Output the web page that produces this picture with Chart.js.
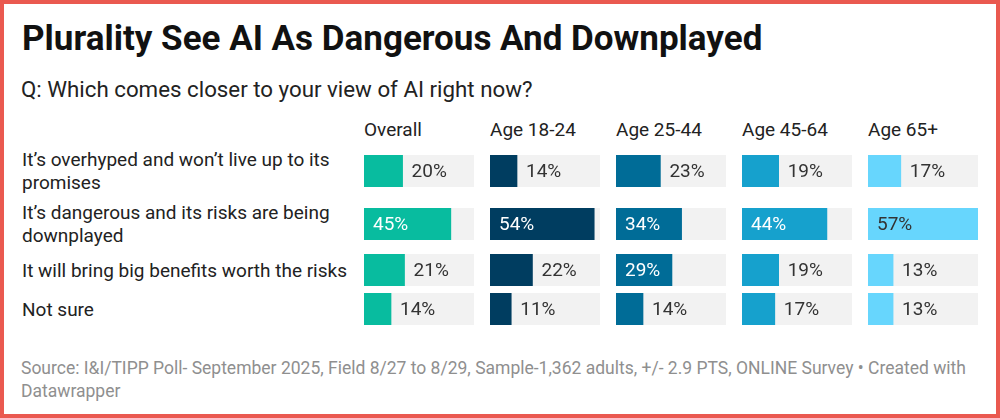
<!DOCTYPE html>
<html>
<head>
<meta charset="utf-8">
<script src="https://cdn.jsdelivr.net/npm/chart.js@4.4.1/dist/chart.umd.min.js"></script>
<style>
  html, body { margin: 0; padding: 0; }
  body {
    width: 1000px; height: 418px; box-sizing: border-box;
    border: 4px solid #ea5950; background: #fff; position: relative;
    font-family: Roboto, "Noto Sans", sans-serif; color: #333; overflow: hidden;
  }
  #title {
    position: absolute; left: 18px; top: 17px; font-size: 35px; line-height: 35px;
    font-weight: 700; color: #111; white-space: nowrap;
  }
  #subtitle {
    position: absolute; left: 17px; top: 74px; font-size: 22.3px; line-height: 22px;
    color: #222; white-space: nowrap;
  }
  #table {
    position: absolute; left: 18px; top: 114px; display: grid;
    grid-template-columns: 342px repeat(5, 126px); row-gap: 7px;
    font-size: 19px; line-height: 23px;
  }
  .head { color: #222; }
  .label { align-self: center; padding-right: 8px; color: #222; }
  .cell { align-self: center; height: 32px; }
  .cell canvas { display: block; }
  #footer {
    position: absolute; left: 17px; top: 353px; width: 958px; font-size: 17.5px;
    line-height: 23px; color: #8f8f8f;
  }
</style>
</head>
<body>
<div id="title">Plurality See AI As Dangerous And Downplayed</div>
<div id="subtitle">Q: Which comes closer to your view of AI right now?</div>
<div id="table"></div>
<div id="footer">Source: I&amp;I/TIPP Poll- September 2025, Field 8/27 to 8/29, Sample-1,362 adults, +/- 2.9 PTS, ONLINE Survey • Created with Datawrapper</div>

<script>
const answers = [
  "It’s overhyped and won’t live up to its promises",
  "It’s dangerous and its risks are being downplayed",
  "It will bring big benefits worth the risks",
  "Not sure"
];
const groups = ["Overall", "Age 18-24", "Age 25-44", "Age 45-64", "Age 65+"];
const overall = [20, 45, 21, 14];
const age18to24 = [14, 54, 22, 11];
const age25to44 = [23, 34, 29, 14];
const age45to64 = [19, 44, 19, 17];
const age65plus = [17, 57, 13, 13];
const series = [overall, age18to24, age25to44, age45to64, age65plus];

const barColors = ["#08bc9f", "#003d60", "#006c97", "#16a1cd", "#67d6fd"];
const insideText = ["#fff", "#fff", "#fff", "#fff", "#333"];
const trackColor = "#f2f2f2";
const maxValue = Math.max(...series.flat());

// value label: inside the bar when it fits, otherwise just after it
const valueLabels = {
  id: "valueLabels",
  afterDatasetsDraw(chart, args, opts) {
    const ctx = chart.ctx;
    const bar = chart.getDatasetMeta(0).data[0];
    const text = chart.data.datasets[0].data[0] + "%";
    ctx.save();
    ctx.font = "19px Roboto, 'Noto Sans', sans-serif";
    ctx.textBaseline = "middle";
    ctx.textAlign = "left";
    const w = ctx.measureText(text).width;
    const barW = bar.x - bar.base;
    if (barW >= w + 18) {
      ctx.fillStyle = opts.inside;
      ctx.fillText(text, bar.base + 9, bar.y + 1);
    } else {
      ctx.fillStyle = "#333";
      ctx.fillText(text, bar.x + 9, bar.y + 1);
    }
    ctx.restore();
  }
};

const table = document.getElementById("table");
table.appendChild(document.createElement("div"));
groups.forEach((g) => {
  const h = document.createElement("div");
  h.className = "head";
  h.textContent = g;
  table.appendChild(h);
});

answers.forEach((answer, row) => {
  const lab = document.createElement("div");
  lab.className = "label";
  lab.textContent = answer;
  table.appendChild(lab);

  series.forEach((values, col) => {
    const cell = document.createElement("div");
    cell.className = "cell";
    const canvas = document.createElement("canvas");
    canvas.width = 110;
    canvas.height = 32;
    canvas.style.width = "110px";
    canvas.style.height = "32px";
    cell.appendChild(canvas);
    table.appendChild(cell);

    new Chart(canvas, {
      type: "bar",
      data: {
        labels: [answer],
        datasets: [
          {
            data: [values[row]],
            backgroundColor: barColors[col],
            grouped: false,
            order: 0,
            barPercentage: 1,
            categoryPercentage: 1,
          },
          {
            data: [maxValue],
            backgroundColor: trackColor,
            grouped: false,
            order: 1,
            barPercentage: 1,
            categoryPercentage: 1,
          },
        ],
      },
      options: {
        indexAxis: "y",
        responsive: false,
        animation: false,
        events: [],
        layout: { padding: 0 },
        plugins: {
          legend: { display: false },
          tooltip: { enabled: false },
          valueLabels: { inside: insideText[col] },
        },
        scales: {
          x: { display: false, min: 0, max: maxValue },
          y: { display: false },
        },
      },
      plugins: [valueLabels],
    });
  });
});
</script>
</body>
</html>
